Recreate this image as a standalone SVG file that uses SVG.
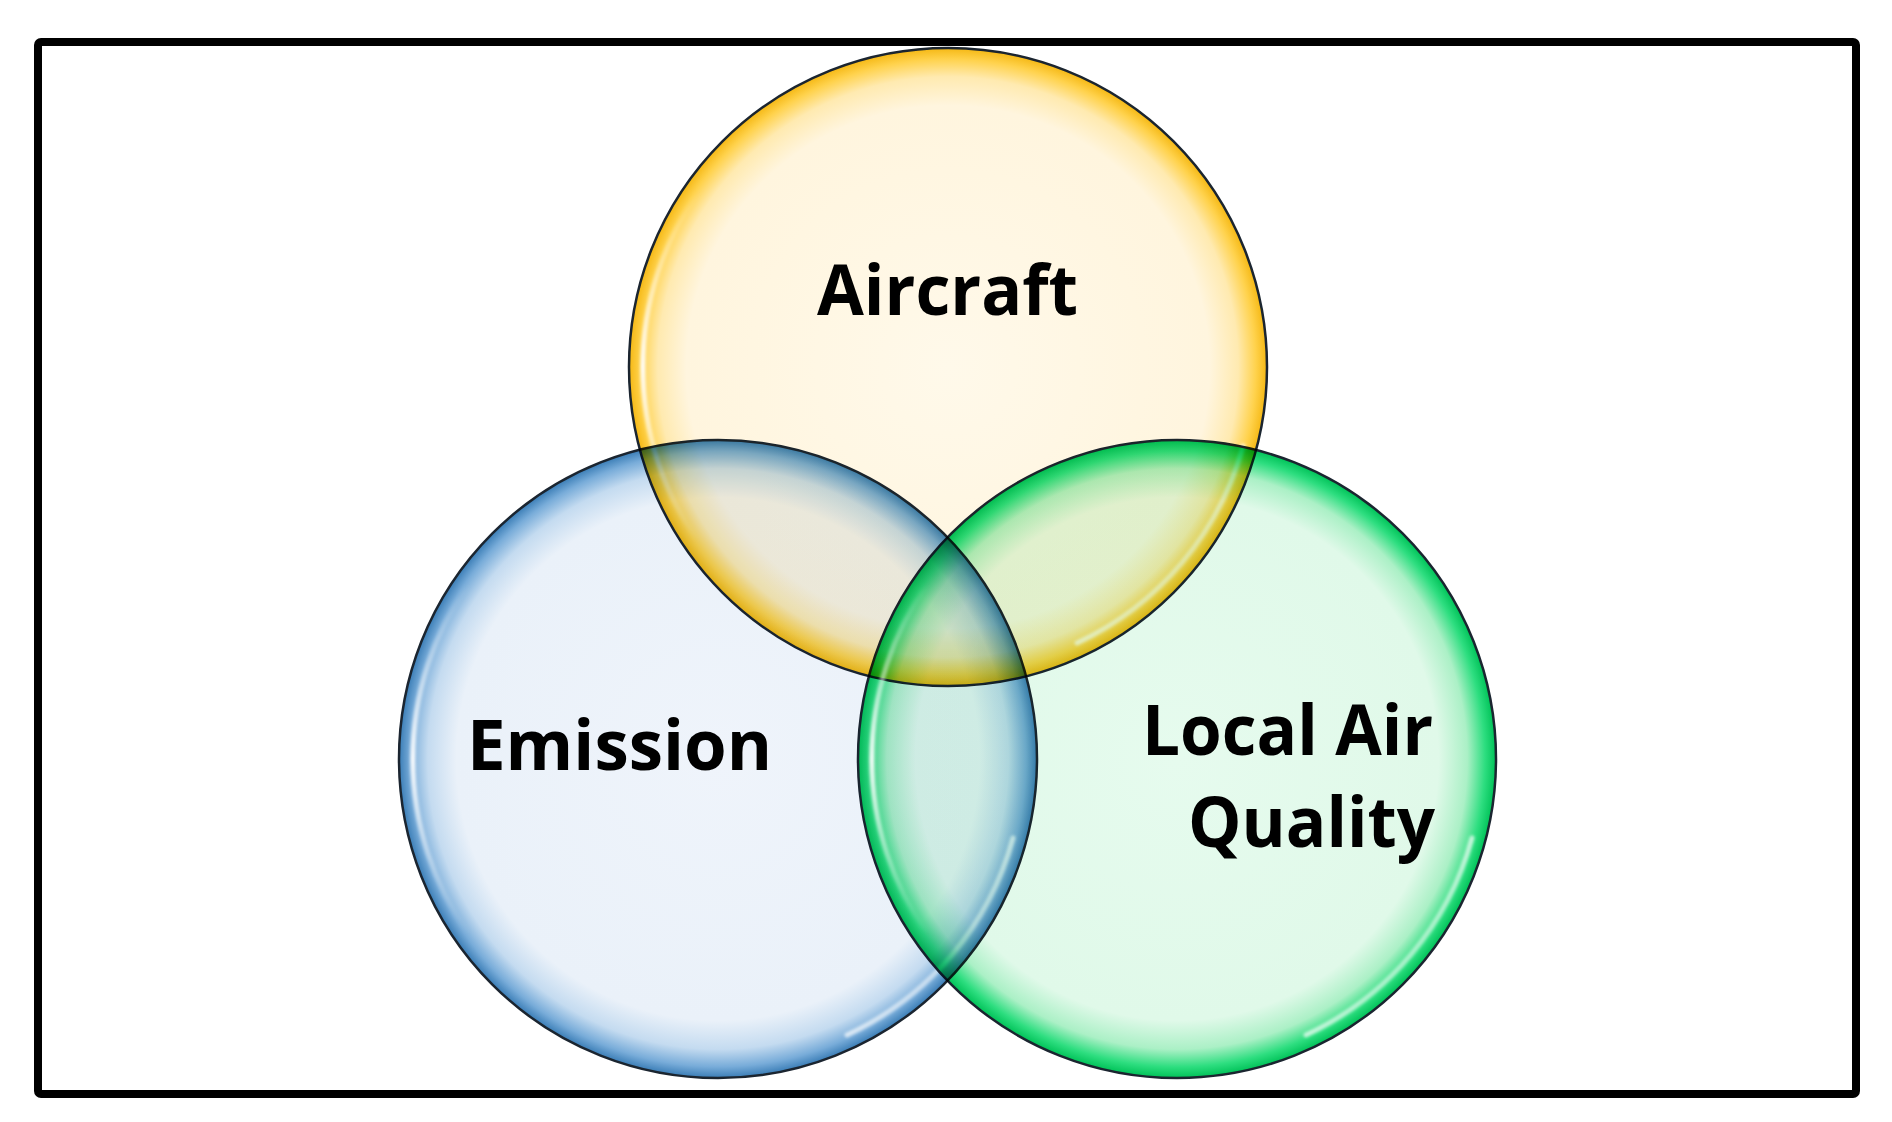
<svg xmlns="http://www.w3.org/2000/svg" width="1892" height="1122" viewBox="0 0 1892 1122">
  <defs>
    <radialGradient id="gAir" cx="0.5" cy="0.5" r="0.5">
      <stop offset="0" stop-color="#FFF9EA"/>
      <stop offset="0.82" stop-color="#FFF5DE"/>
      <stop offset="0.91" stop-color="#FFEAB0"/>
      <stop offset="0.965" stop-color="#FFD24C"/>
      <stop offset="1" stop-color="#F5B814"/>
    </radialGradient>
    <radialGradient id="gEm" cx="0.5" cy="0.5" r="0.5">
      <stop offset="0" stop-color="#EFF4FB"/>
      <stop offset="0.82" stop-color="#EAF1F9"/>
      <stop offset="0.91" stop-color="#C4DBF0"/>
      <stop offset="0.965" stop-color="#78ACD9"/>
      <stop offset="1" stop-color="#3A7DB6"/>
    </radialGradient>
    <radialGradient id="gLaq" cx="0.5" cy="0.5" r="0.5">
      <stop offset="0" stop-color="#E6FBEE"/>
      <stop offset="0.82" stop-color="#E0F9E9"/>
      <stop offset="0.91" stop-color="#ABF0C6"/>
      <stop offset="0.965" stop-color="#2EDE80"/>
      <stop offset="1" stop-color="#00C258"/>
    </radialGradient>
    <linearGradient id="hlV" x1="0" y1="0" x2="0" y2="1">
      <stop offset="0" stop-color="#FFFFFF" stop-opacity="0"/>
      <stop offset="0.5" stop-color="#FFFFFF" stop-opacity="0.95"/>
      <stop offset="1" stop-color="#FFFFFF" stop-opacity="0"/>
    </linearGradient>
    <linearGradient id="hlD" x1="0" y1="0" x2="1" y2="1">
      <stop offset="0" stop-color="#FFFFFF" stop-opacity="0"/>
      <stop offset="0.5" stop-color="#FFFFFF" stop-opacity="0.7"/>
      <stop offset="1" stop-color="#FFFFFF" stop-opacity="0"/>
    </linearGradient>
    <filter id="soft" x="-20%" y="-20%" width="140%" height="140%">
      <feGaussianBlur stdDeviation="1.8"/>
    </filter>
  </defs>
  <style>
    .bubble { stroke: #1b2530; stroke-width: 2.5; mix-blend-mode: multiply; }
    .hl { fill: none; stroke-width: 5; stroke-linecap: round; filter: url(#soft); }
    .lbl { font-family: "Open Sans", "Liberation Sans", sans-serif; font-weight: 700; font-size: 70px; fill: #000000; }
  </style>
  <rect x="0" y="0" width="1892" height="1122" fill="#FFFFFF"/>
  <rect x="38" y="42" width="1818" height="1052" rx="3" fill="#FFFFFF" stroke="#000000" stroke-width="8"/>

  <g id="connectors"></g>

  <g id="node-aircraft">
    <circle class="bubble" cx="948" cy="367" r="319" fill="url(#gAir)"/>
    <path class="hl" stroke="url(#hlV)" d="M 698 192 A 305 305 0 0 0 698 542"/>
    <path class="hl" stroke="url(#hlD)" d="M 1243 446 A 305 305 0 0 1 1077 643"/>
    <text class="lbl" x="947.5" y="315" text-anchor="middle" textLength="261" lengthAdjust="spacingAndGlyphs">Aircraft</text>
  </g>

  <g id="node-emission">
    <circle class="bubble" cx="718" cy="759" r="319" fill="url(#gEm)"/>
    <path class="hl" stroke="url(#hlV)" d="M 468 584 A 305 305 0 0 0 468 934"/>
    <path class="hl" stroke="url(#hlD)" d="M 1013 838 A 305 305 0 0 1 847 1035"/>
    <text class="lbl" x="619.5" y="770" text-anchor="middle" textLength="305" lengthAdjust="spacingAndGlyphs">Emission</text>
  </g>

  <g id="node-local-air-quality">
    <circle class="bubble" cx="1177" cy="759" r="319" fill="url(#gLaq)"/>
    <path class="hl" stroke="url(#hlV)" d="M 927 584 A 305 305 0 0 0 927 934"/>
    <path class="hl" stroke="url(#hlD)" d="M 1472 838 A 305 305 0 0 1 1306 1035"/>
    <text class="lbl" x="1287.5" y="755" text-anchor="middle" textLength="291" lengthAdjust="spacingAndGlyphs">Local Air</text>
    <text class="lbl" x="1311.5" y="847" text-anchor="middle" textLength="247" lengthAdjust="spacingAndGlyphs">Quality</text>
  </g>
</svg>
